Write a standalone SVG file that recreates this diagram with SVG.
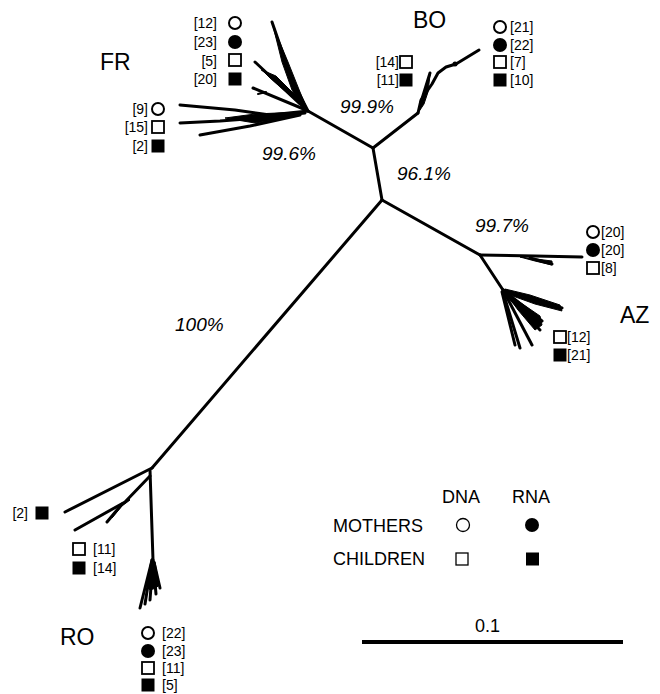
<svg xmlns="http://www.w3.org/2000/svg" width="660" height="694" viewBox="0 0 660 694">
<style>
.e{fill:none;stroke:#000;stroke-width:3;stroke-linejoin:round;stroke-linecap:round}
.t{fill:none;stroke:#000;stroke-width:2;stroke-linejoin:round;stroke-linecap:round}
.w{fill:#000;stroke:#000;stroke-width:1;stroke-linejoin:round}
.lab{font-family:"Liberation Sans",Arial,sans-serif;font-size:14px;fill:#000}
.big{font-family:"Liberation Sans",Arial,sans-serif;font-size:23px;fill:#000}
.pct{font-family:"Liberation Sans",Arial,sans-serif;font-size:19px;font-style:italic;fill:#000}
.leg{font-family:"Liberation Sans",Arial,sans-serif;font-size:18px;fill:#000}
.oc{fill:#fff;stroke:#000;stroke-width:2}
.fc{fill:#000}
.os{fill:#fff;stroke:#000;stroke-width:1.8}
.fs{fill:#000}
</style>
<rect width="660" height="694" fill="#fff"/>
<g id="connectors">
  <path class="e" d="M373,148 L382,200"/>
  <path class="e" d="M373,148 L308,111"/>
  <path class="e" d="M373,148 L418,113"/>
  <path class="e" d="M382,200 L480,255"/>
  <path class="e" d="M382,200 L152,468"/>
</g>
<g id="clade-FR">
  <path class="e" d="M308,111 L292,80 L272,22"/>
  <polygon class="w" points="273,26 288,62 300,92 308,111 302,108 292,90 282,62"/>
  <path class="e" d="M300,104 L255,62"/>
  <polygon class="w" points="300,104 270,78 262,70 276,76 296,96"/>
  <path class="t" d="M262,70 L268,74"/>
  <path class="e" d="M306,110 L253,88"/>
  <path class="t" d="M258,94 L266,92"/>
  <path class="e" d="M308,111 L270,115 L235,110 L180,105"/>
  <path class="e" d="M305,113 L260,118 L220,121 L180,123"/>
  <path class="e" d="M300,115 L250,126 L200,135"/>
  <polygon class="w" points="300,112 255,114 225,118 255,123 298,116"/>
</g>
<g id="clade-BO">
  <path class="e" d="M418,113 L421,100 L432,84 L438,73 L446,67 L456,64 L479,50"/>
  <path class="e" d="M421,102 L430,73"/>
  <polygon class="w" points="418,113 423,96 430,75 428,92 424,104"/>
  <circle cx="455" cy="64" r="2.5" fill="#000"/>
</g>
<g id="clade-AZ">
  <path class="e" d="M480,255 L535,256 L582,257"/>
  <path class="e" d="M530,258 L552,264"/>
  <polygon class="w" points="520,257 552,261 552,265 535,261"/>
  <path class="e" d="M480,255 L503,290"/>
  <path class="e" d="M503,290 L562,308"/>
  <polygon class="w" points="505,289 530,295 560,305 562,311 535,304 510,295"/>
  <path class="e" d="M503,290 L542,321"/>
  <path class="e" d="M504,292 L540,330"/>
  <path class="e" d="M504,292 L532,345"/>
  <path class="e" d="M503,292 L520,348"/>
  <path class="e" d="M502,292 L515,345"/>
  <polygon class="w" points="505,292 540,316 542,325 535,330 518,310"/>
</g>
<g id="clade-RO">
  <path class="e" d="M152,468 L65,512"/>
  <path class="e" d="M150,476 L125,502 L75,530"/>
  <path class="e" d="M122,504 L107,522"/>
  <polygon class="w" points="128,498 118,508 112,518 122,506 130,500"/>
  <path class="e" d="M150,470 L153,560"/>
  <path class="e" d="M152,560 L140,608"/>
  <path class="e" d="M152,560 L145,604"/>
  <path class="e" d="M153,560 L150,600"/>
  <path class="e" d="M153,562 L156,594"/>
  <path class="e" d="M154,562 L160,588"/>
  <polygon class="w" points="151,562 146,585 150,590 156,588 159,585 155,562"/>
</g>
<g id="group-FR-1">
  <text class="lab" x="217" y="28" text-anchor="end">[12]</text>
  <circle class="oc" cx="235" cy="23" r="6"/>
  <text class="lab" x="217" y="47" text-anchor="end">[23]</text>
  <circle class="fc" cx="235" cy="42" r="7"/>
  <text class="lab" x="217" y="66" text-anchor="end">[5]</text>
  <rect class="os" x="229" y="54" width="12" height="12"/>
  <text class="lab" x="217" y="84" text-anchor="end">[20]</text>
  <rect class="fs" x="228.5" y="72.5" width="13" height="13"/>
</g>
<g id="group-FR-2">
  <text class="lab" x="148" y="114" text-anchor="end">[9]</text>
  <circle class="oc" cx="158" cy="109" r="6"/>
  <text class="lab" x="148" y="132" text-anchor="end">[15]</text>
  <rect class="os" x="152" y="121" width="12" height="12"/>
  <text class="lab" x="148" y="151" text-anchor="end">[2]</text>
  <rect class="fs" x="151.5" y="139.5" width="13" height="13"/>
</g>
<g id="group-BO-1">
  <text class="lab" x="399" y="67" text-anchor="end">[14]</text>
  <rect class="os" x="400" y="56" width="12" height="12"/>
  <text class="lab" x="399" y="85" text-anchor="end">[11]</text>
  <rect class="fs" x="399.5" y="73.5" width="13" height="13"/>
</g>
<g id="group-BO-2">
  <circle class="oc" cx="500" cy="27" r="6"/>
  <text class="lab" x="510" y="32">[21]</text>
  <circle class="fc" cx="500" cy="45" r="7"/>
  <text class="lab" x="510" y="50">[22]</text>
  <rect class="os" x="494" y="56" width="12" height="12"/>
  <text class="lab" x="510" y="67">[7]</text>
  <rect class="fs" x="493.5" y="73.5" width="13" height="13"/>
  <text class="lab" x="510" y="85">[10]</text>
</g>
<g id="group-AZ-1">
  <circle class="oc" cx="593" cy="232" r="6"/>
  <text class="lab" x="601" y="237">[20]</text>
  <circle class="fc" cx="593" cy="250" r="7"/>
  <text class="lab" x="601" y="255">[20]</text>
  <rect class="os" x="587" y="262" width="12" height="12"/>
  <text class="lab" x="601" y="273">[8]</text>
</g>
<g id="group-AZ-2">
  <rect class="os" x="554" y="331" width="12" height="12"/>
  <text class="lab" x="567" y="342">[12]</text>
  <rect class="fs" x="553.5" y="348.5" width="13" height="13"/>
  <text class="lab" x="567" y="360">[21]</text>
</g>
<g id="group-RO-1">
  <text class="lab" x="28" y="518" text-anchor="end">[2]</text>
  <rect class="fs" x="35.5" y="506.5" width="13" height="13"/>
</g>
<g id="group-RO-2">
  <rect class="os" x="73" y="543" width="12" height="12"/>
  <text class="lab" x="93" y="554">[11]</text>
  <rect class="fs" x="72.5" y="561.5" width="13" height="13"/>
  <text class="lab" x="93" y="573">[14]</text>
</g>
<g id="group-RO-3">
  <circle class="oc" cx="148" cy="633" r="6"/>
  <text class="lab" x="162" y="638">[22]</text>
  <circle class="fc" cx="148" cy="651" r="7"/>
  <text class="lab" x="162" y="656">[23]</text>
  <rect class="os" x="142" y="662" width="12" height="12"/>
  <text class="lab" x="162" y="673">[11]</text>
  <rect class="fs" x="141.5" y="678.5" width="13" height="13"/>
  <text class="lab" x="162" y="690">[5]</text>
</g>
<g id="clade-labels">
  <text class="big" x="100" y="70">FR</text>
  <text class="big" x="413" y="28">BO</text>
  <text class="big" x="620" y="323">AZ</text>
  <text class="big" x="60" y="645">RO</text>
</g>
<g id="support">
  <text class="pct" x="340" y="113">99.9%</text>
  <text class="pct" x="262" y="160">99.6%</text>
  <text class="pct" x="397" y="180">96.1%</text>
  <text class="pct" x="475" y="232">99.7%</text>
  <text class="pct" x="175" y="331">100%</text>
</g>
<g id="legend">
  <text class="leg" x="442" y="503">DNA</text>
  <text class="leg" x="512" y="503">RNA</text>
  <text class="leg" x="333" y="532">MOTHERS</text>
  <circle cx="463" cy="525" r="6.5" fill="#fff" stroke="#000" stroke-width="1.3"/>
  <circle cx="532" cy="525" r="7" fill="#000"/>
  <text class="leg" x="333" y="565">CHILDREN</text>
  <rect x="456" y="553" width="12" height="12" fill="#fff" stroke="#000" stroke-width="1.3"/>
  <rect x="526" y="552.5" width="13" height="13" fill="#000"/>
</g>
<g id="scale">
  <text class="leg" x="475" y="632">0.1</text>
  <rect x="362" y="640" width="261" height="4" fill="#000"/>
</g>
</svg>
